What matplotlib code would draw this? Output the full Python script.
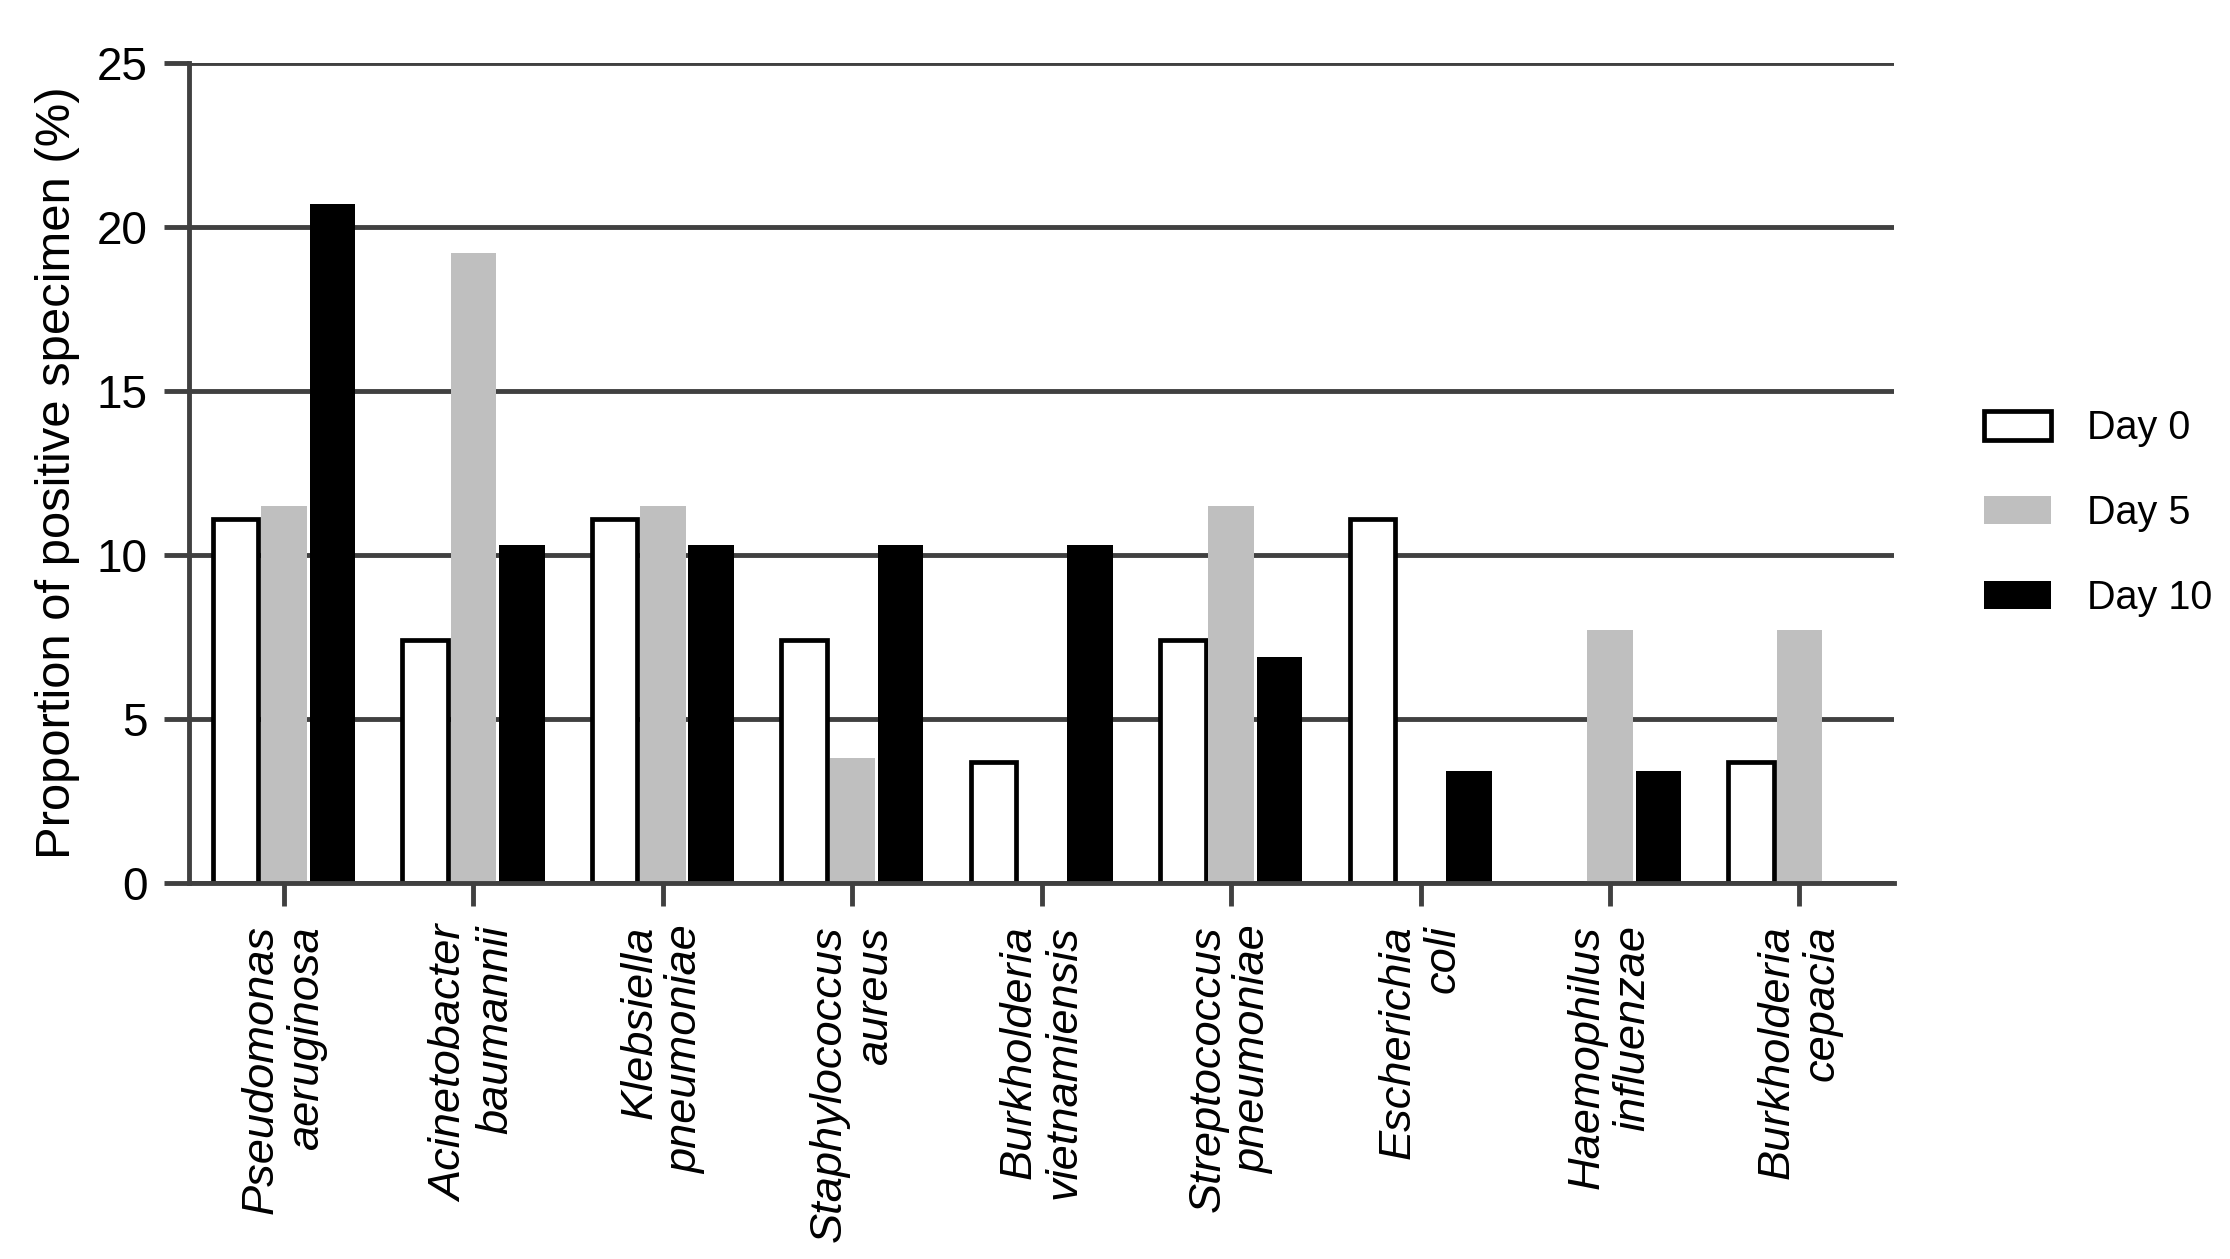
import matplotlib
matplotlib.use('Agg')
import matplotlib.pyplot as plt
import numpy as np

plt.rcParams['font.family'] = ['Liberation Sans', 'DejaVu Sans']

# Species (two-line italic labels)
species = ['Pseudomonas\naeruginosa', 'Acinetobacter\nbaumannii', 'Klebsiella\npneumoniae',
           'Staphylococcus\naureus', 'Burkholderia\nvietnamiensis', 'Streptococcus\npneumoniae',
           'Escherichia\ncoli', 'Haemophilus\ninfluenzae', 'Burkholderia\ncepacia']

# Proportion of positive specimen (%)
day0 = [11.1, 7.4, 11.1, 7.4, 3.7, 7.4, 11.1, 0.0, 3.7]
day5 = [11.5, 19.2, 11.5, 3.8, 0.0, 11.5, 0.0, 7.7, 7.7]
day10 = [20.7, 10.3, 10.3, 10.3, 10.3, 6.9, 3.4, 3.4, 0.0]

grid_col = '#404040'

fig = plt.figure(figsize=(22.30, 12.59), dpi=100)
ax = fig.add_axes([0.0849, 0.2986, 0.7645, 0.6517])

x = np.arange(len(species))
w = 0.24
off = 0.255
ax.bar(x - off, day0, w, color='white', edgecolor='black', linewidth=3.4, label='Day 0', zorder=3)
ax.bar(x, day5, w, color='#bfbfbf', linewidth=0, label='Day 5', zorder=3)
ax.bar(x + off, day10, w, color='black', linewidth=0, label='Day 10', zorder=3)

ax.set_xlim(-0.5, 8.5)
ax.set_ylim(0, 25)
ax.set_yticks([0, 5, 10, 15, 20, 25])
ax.set_xticks(x)
ax.set_xticklabels(species, rotation=90, fontstyle='italic', fontsize=32.6,
                   ha='center', va='top', multialignment='right', linespacing=1.14)

ax.grid(axis='y', color=grid_col, linewidth=3.5, zorder=0)
ax.set_axisbelow(True)
for s in ['top', 'right']:
    ax.spines[s].set_visible(False)
ax.spines['left'].set_color(grid_col)
ax.spines['left'].set_linewidth(3.5)
ax.spines['bottom'].set_color(grid_col)
ax.spines['bottom'].set_linewidth(3.5)
ax.spines['bottom'].set_zorder(4)

ax.tick_params(axis='y', direction='out', length=18, width=3.5, color=grid_col,
               labelsize=33, pad=12)
ax.tick_params(axis='x', direction='out', length=16.5, width=3.5, color=grid_col, pad=14)

ax.set_ylabel('Proportion of positive specimen (%)', fontsize=35.3)
ax.yaxis.set_label_coords(-0.064, 0.5)

leg = ax.legend(loc='center left', bbox_to_anchor=(1.0528, 0.451), frameon=False,
                fontsize=28.5, handlelength=1.7, handleheight=0.72, handletextpad=0.9,
                labelspacing=1.18, borderpad=0, borderaxespad=0)

fig.savefig('out.png', dpi=100)
